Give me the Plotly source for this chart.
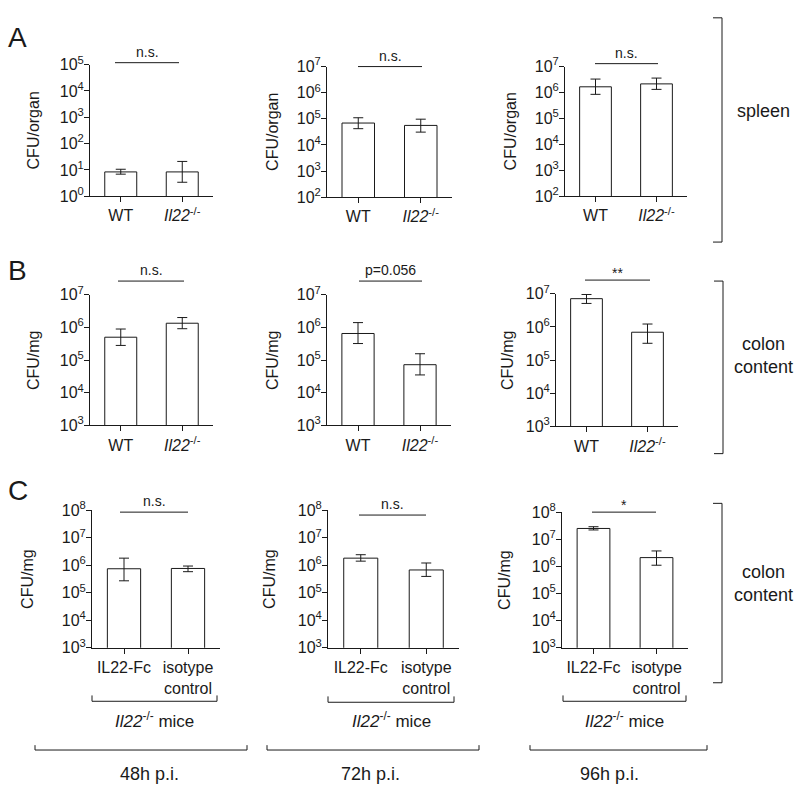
import plotly.graph_objects as go

W, H = 800, 799
FONT = "Liberation Sans, Arial, sans-serif"
INK = "#1a1a1a"

# ---------------- data ----------------
cats_ab = ["WT", "Il22"]
labels_ab = ["WT", "<i>Il22</i><sup>-/-</sup>"]
cats_c = ["IL22-Fc", "isotype"]
labels_c = ["IL22-Fc", "isotype<br>control"]

# A: spleen, CFU/organ
spleen_48h = [8.4, 8.4]
spleen_48h_hi = [10.6, 21]
spleen_48h_lo = [6.9, 3.4]
spleen_72h = [6.9e4, 5.6e4]
spleen_72h_hi = [1.1e5, 9.7e4]
spleen_72h_lo = [4.2e4, 3.1e4]
spleen_96h = [1.66e6, 2.15e6]
spleen_96h_hi = [3.3e6, 3.6e6]
spleen_96h_lo = [8.5e5, 1.32e6]

# B: colon content, CFU/mg (WT vs Il22-/-)
colon_48h = [5.0e5, 1.34e6]
colon_48h_hi = [8.9e5, 2.0e6]
colon_48h_lo = [2.8e5, 9.1e5]
colon_72h = [6.5e5, 7.2e4]
colon_72h_hi = [1.4e6, 1.56e5]
colon_72h_lo = [3.2e5, 3.5e4]
colon_96h = [7.1e6, 6.9e5]
colon_96h_hi = [9.5e6, 1.22e6]
colon_96h_lo = [5.1e6, 3.2e5]

# C: colon content, CFU/mg (IL22-Fc vs isotype control in Il22-/- mice)
fc_48h = [7.4e5, 7.6e5]
fc_48h_hi = [1.8e6, 9.3e5]
fc_48h_lo = [2.7e5, 5.8e5]
fc_72h = [1.8e6, 6.7e5]
fc_72h_hi = [2.4e6, 1.2e6]
fc_72h_lo = [1.4e6, 3.9e5]
fc_96h = [2.5e7, 2.1e6]
fc_96h_hi = [2.9e7, 3.7e6]
fc_96h_lo = [2.2e7, 1.1e6]

sig_labels = ["n.s.", "n.s.", "n.s.",
              "n.s.", "p=0.056", "**",
              "n.s.", "n.s.", "*"]
y_titles = ["CFU/organ"] * 3 + ["CFU/mg"] * 6
y_decades = [(0, 5), (2, 7), (2, 7), (3, 7), (3, 7), (3, 7), (3, 8), (3, 8), (3, 8)]
time_labels = ["48h p.i.", "72h p.i.", "96h p.i."]

series = [
    (cats_ab, labels_ab, spleen_48h, spleen_48h_hi, spleen_48h_lo),
    (cats_ab, labels_ab, spleen_72h, spleen_72h_hi, spleen_72h_lo),
    (cats_ab, labels_ab, spleen_96h, spleen_96h_hi, spleen_96h_lo),
    (cats_ab, labels_ab, colon_48h, colon_48h_hi, colon_48h_lo),
    (cats_ab, labels_ab, colon_72h, colon_72h_hi, colon_72h_lo),
    (cats_ab, labels_ab, colon_96h, colon_96h_hi, colon_96h_lo),
    (cats_c, labels_c, fc_48h, fc_48h_hi, fc_48h_lo),
    (cats_c, labels_c, fc_72h, fc_72h_hi, fc_72h_lo),
    (cats_c, labels_c, fc_96h, fc_96h_hi, fc_96h_lo),
]

# ---------------- layout geometry (pixels) ----------------
geom = [
    (90, 213, 55, 190), (327, 452, 57, 191), (565, 687, 57, 190),
    (90, 213, 291, 425), (327, 451, 291, 425), (556, 678, 290, 426),
    (92, 220, 512, 653), (328, 459, 512, 653), (562, 688, 514, 653),
]
sig_geom = [
    (115, 179, 53), (358, 422, 57), (595, 658, 54),
    (118, 184, 277), (359, 422, 277), (585, 650, 276),
    (120, 188, 514), (359, 426, 517), (592, 656, 514),
]
ytitle_x = [33, 273, 510, 33, 272, 507, 28, 270, 505]


def px(x):
    return x / W


def py(y):
    return 1 - y / H


fig = go.Figure()
layout = dict(
    width=W, height=H, margin=dict(l=0, r=0, t=0, b=0),
    paper_bgcolor="white", plot_bgcolor="white",
    showlegend=False, font=dict(family=FONT, size=16, color=INK),
)
annotations = []
shapes = []


def line(x0, y0, x1, y1):
    shapes.append(dict(type="line", xref="paper", yref="paper",
                       x0=px(x0), y0=py(y0), x1=px(x1), y1=py(y1),
                       line=dict(color=INK, width=1)))


def text(x, y, s, size, **kw):
    d = dict(x=px(x), y=py(y), xref="paper", yref="paper", text=s,
             showarrow=False, xanchor="center", yanchor="middle",
             font=dict(family=FONT, size=size, color=INK))
    d.update(kw)
    annotations.append(d)


for i, ((cats, labs, vals, hi, lo), g, dec) in enumerate(zip(series, geom, y_decades)):
    n = i + 1
    xa = "x" if n == 1 else f"x{n}"
    ya = "y" if n == 1 else f"y{n}"
    fig.add_trace(go.Bar(
        x=cats, y=vals, width=0.52, xaxis=xa, yaxis=ya,
        marker=dict(color="white", line=dict(color=INK, width=1)),
        error_y=dict(type="data", symmetric=False,
                     array=[h - v for h, v in zip(hi, vals)],
                     arrayminus=[v - l for v, l in zip(vals, lo)],
                     color=INK, thickness=1, width=5),
    ))
    x0, x1, yt, yb = g
    tickvals = [10 ** k for k in range(dec[0], dec[1] + 1)]
    ticktext = [f"10<sup>{k}</sup>" for k in range(dec[0], dec[1] + 1)]
    layout[f"xaxis{'' if n == 1 else n}"] = dict(
        domain=[px(x0), px(x1)], anchor=ya, range=[-0.5, 1.5],
        tickvals=cats, ticktext=labs, ticks="outside", ticklen=5,
        tickcolor=INK, showline=True, linecolor=INK, linewidth=1,
        showgrid=False, zeroline=False, fixedrange=True,
        tickfont=dict(family=FONT, size=16, color=INK),
    )
    layout[f"yaxis{'' if n == 1 else n}"] = dict(
        domain=[py(yb), py(yt)], anchor=xa, type="log",
        range=[dec[0], dec[1]], tickvals=tickvals, ticktext=ticktext,
        ticks="outside", ticklen=5, tickcolor=INK, showline=True,
        linecolor=INK, linewidth=1, showgrid=False, zeroline=False,
        fixedrange=True, ticklabelstandoff=-3,
        tickfont=dict(family=FONT, size=16, color=INK),
    )
    text(ytitle_x[i], (yt + yb) / 2, y_titles[i], 16, textangle=-90)
    sx0, sx1, sy = sig_geom[i]
    line(sx0, sy, sx1, sy)
    lab = sig_labels[i]
    off = -3 if "*" in lab else 1
    text((sx0 + sx1) / 2, sy - off, lab, 14, yanchor="bottom")

# panel letters
text(17, 27, "A", 28)
text(17, 266, "B", 28)
text(18, 492, "C", 28)

# right brackets
for (bx, y0, y1, ty, lab) in [(722, 7, 237, 103, "spleen"),
                              (723, 277, 454, 353, "colon<br>content"),
                              (722, 505, 689, 587, "colon<br>content")]:
    line(bx, y0, bx, y1)
    line(bx - 9, y0, bx, y0)
    line(bx - 9, y1, bx, y1)
    text(763, ty, lab, 18)

# Il22-/- mice brackets
for (bx0, bx1, by) in [(92, 217, 708), (328, 454, 709), (563, 686, 708)]:
    line(bx0, by, bx1, by)
    line(bx0, by, bx0, by - 6)
    line(bx1, by, bx1, by - 6)
    text((bx0 + bx1) / 2, 727, "<i>Il22</i><sup>-/-</sup> mice", 17)

# time brackets
for (bx0, bx1, tx), lab in zip([(35, 247, 149), (267, 479, 370), (530, 707, 609)], time_labels):
    line(bx0, 758, bx1, 758)
    line(bx0, 758, bx0, 753)
    line(bx1, 758, bx1, 753)
    text(tx, 783, lab, 18)

layout["annotations"] = annotations
layout["shapes"] = shapes
fig.update_layout(**layout)

post = (
    "document.documentElement.style.margin='0';"
    "document.documentElement.style.overflow='hidden';"
    "document.body.style.margin='0';document.body.style.padding='0';"
    "document.body.style.overflow='hidden';"
    "var d=document.getElementById('{plot_id}');"
    "d.style.position='fixed';d.style.left='0px';d.style.top='0px';"
)
fig.write_html("out.html", config={"displayModeBar": False, "staticPlot": True},
               post_script=post)
